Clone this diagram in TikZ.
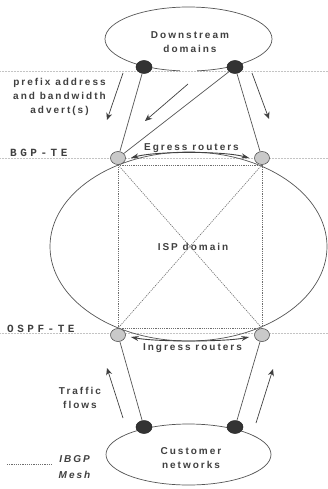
\documentclass[tikz,border=0pt]{standalone}
\usepackage{fontspec}
\usetikzlibrary{shapes.geometric,arrows.meta}
\newfontfamily\labfont{Liberation Sans}[LetterSpace=20]
\newfontfamily\tefont{Liberation Mono}[LetterSpace=32]
\definecolor{ink}{HTML}{404040}
\definecolor{wire}{HTML}{555555}
\definecolor{rulegray}{HTML}{C4C4C4}
\definecolor{meshgray}{HTML}{6E6E6E}
\definecolor{routerfill}{HTML}{C9C9C9}
\definecolor{hostfill}{HTML}{333333}
\begin{document}
\begin{tikzpicture}[x=1pt,y=-1pt,
  labtext/.style={text=ink,font=\labfont\bfseries\fontsize{10}{14}\selectfont,inner sep=0pt,align=center},
  layerlbl/.style={text=ink,font=\tefont\bfseries\fontsize{11}{13}\selectfont,inner sep=0pt,anchor=base west},
  domainshape/.style={ellipse,draw=wire,line width=0.7pt,inner sep=0pt},
  routernode/.style={ellipse,draw=wire,fill=routerfill,line width=0.6pt,minimum width=15pt,minimum height=13pt,inner sep=0pt},
  hostnode/.style={ellipse,draw=black!85,fill=hostfill,line width=0.5pt,minimum width=16pt,minimum height=13pt,inner sep=0pt},
  peerlink/.style={draw=wire,line width=0.7pt},
  ibgpline/.style={draw=meshgray,line width=0.6pt,dash pattern=on 1.2pt off 1pt},
  layerline/.style={draw=rulegray,line width=0.6pt,dash pattern=on 1pt off 0.5pt},
  flowarrow/.style={draw=ink,line width=0.7pt,-{Stealth[length=7pt,width=6pt]}},
  pairarc/.style={draw=ink,line width=0.9pt,{Stealth[length=8pt,width=5pt]}-{Stealth[length=8pt,width=5pt]}}
]
\fill[white] (0,0) rectangle (328,489);
\useasboundingbox (0,0) rectangle (328,489);

% protocol layer rules
\draw[layerline] (0,71) -- (328,71);
\draw[layerline] (0,158) -- (328,158);
\draw[layerline] (0,333) -- (328,333);

% domains
\node[domainshape,draw=none,minimum width=167pt,minimum height=64pt] (down) at (188.5,39) {};
\draw[peerlink] (188.5,39) ++(96:83.5 and 32) arc[start angle=96,end angle=444,x radius=83.5,y radius=32];
\node[domainshape,minimum width=277pt,minimum height=189pt] (isp) at (188.5,246.5) {};
\node[domainshape,minimum width=165pt,minimum height=61pt] (cust) at (188.5,454.5) {};

\node[labtext] (downtxt) at (190,42.2) {Downstream\\domains};
\node[labtext,anchor=base] (isptxt) at (193,250) {ISP domain};
\node[labtext] (custtxt) at (191,458.4) {Customer\\networks};

% border hosts and edge routers
\node[hostnode] (hTL) at (144,67) {};
\node[hostnode] (hTR) at (235,67) {};
\node[hostnode] (hBL) at (144,427) {};
\node[hostnode] (hBR) at (235,427) {};
\node[routernode] (eL) at (118,158) {};
\node[routernode] (eR) at (262,158) {};
\node[routernode] (iL) at (118,335) {};
\node[routernode] (iR) at (262,335) {};

% peering links
\draw[peerlink] (hTL) -- (eL);
\draw[peerlink] (hTR) -- (eL);
\draw[peerlink] (hTR) -- (eR);
\draw[peerlink] (iL) -- (hBL);
\draw[peerlink] (iR) -- (hBR);

% IBGP full mesh
\draw[ibgpline] (eL.south) -- (eR.south);
\draw[ibgpline] (iL.north) -- (iR.north);
\draw[ibgpline] (eL.south) -- (iL.north);
\draw[ibgpline] (eR.south) -- (iR.north);
\draw[ibgpline] (eL.south) -- (iR.north);
\draw[ibgpline] (eR.south) -- (iL.north);

% router pair arcs
\draw[pairarc] ([xshift=5pt]eL.east) .. controls +(25,-7) and +(-25,-7) .. ([xshift=-5pt]eR.west);
\draw[pairarc] ([xshift=5pt,yshift=-2pt]iL.east) .. controls +(25,5) and +(-25,5) .. ([xshift=-5pt,yshift=-2pt]iR.west);
\node[labtext,anchor=base] (egtxt) at (191.5,150) {Egress routers};
\node[labtext,anchor=base] (ingtxt) at (192.5,350) {Ingress routers};

% advertisement and traffic directions
\draw[flowarrow] (123,73) -- (107,120);
\draw[flowarrow] (188,84) -- (145,121);
\draw[flowarrow] (252,73) -- (269,119);
\draw[flowarrow] (123,418) -- (107,368);
\draw[flowarrow] (256,423) -- (273,369);

\node[labtext] (advtxt) at (59.5,97.4) {prefix address\\and bandwidth\\advert(s)};
\node[labtext] (traftxt) at (80,398.4) {Traffic\\flows};

% layer labels
\node[layerlbl] (bgp) at (10,157) {BGP-TE};
\node[layerlbl] (ospf) at (7,332) {OSPF-TE};

% legend
\draw[ibgpline] (7,464) -- (53,464);
\node[labtext,font=\labfont\bfseries\itshape\fontsize{10}{15.5}\selectfont] (legtxt) at (74.5,467) {IBGP\\Mesh};
\end{tikzpicture}
\end{document}
